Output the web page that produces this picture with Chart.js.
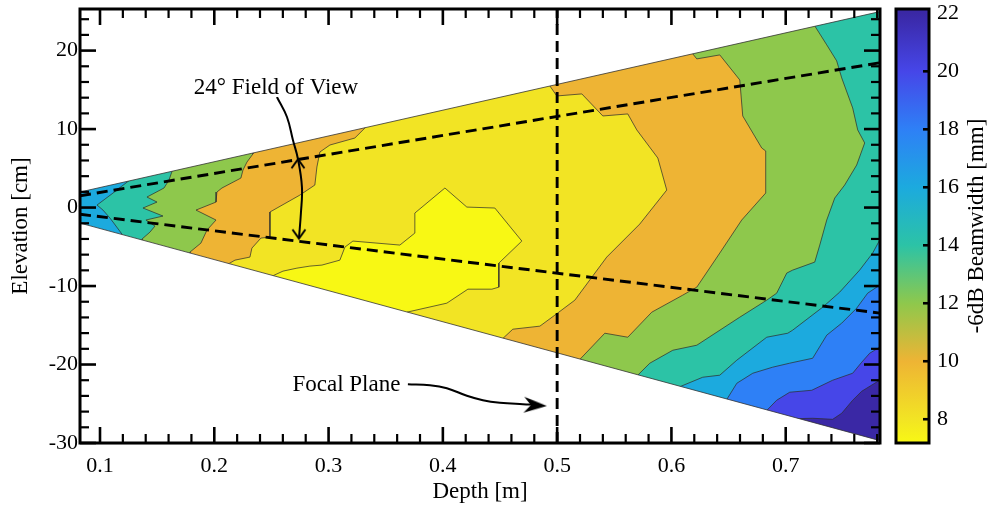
<!DOCTYPE html>
<html>
<head>
<meta charset="utf-8">
<title>Beamwidth map</title>
<script src="https://cdn.jsdelivr.net/npm/chart.js@4/dist/chart.umd.min.js"></script>
<style>
  html, body { margin: 0; padding: 0; background: #fff; }
</style>
</head>
<body>
<canvas id="beamChart" width="993" height="514"></canvas>
<script>
const depthLimits = [0.0825, 0.7825];
const elevationLimits = [-30, 25.3];
const beamwidthLimits = [7.18, 22.15];
const depthTicks = [0.1, 0.2, 0.3, 0.4, 0.5, 0.6, 0.7];
const elevationTicks = [-30, -20, -10, 0, 10, 20];
const beamwidthTicks = [8, 10, 12, 14, 16, 18, 20, 22];

// contour bands, lowest level of each band and its colour (deepest first)
const bandLevels = [22, 20, 18, 16, 14, 12, 10, 8, 7.18];
const bandColors = ['#3A28A5', '#4646E8', '#2E80F6', '#1CAADE', '#2CC3A6', '#8EC84C', '#EEB434', '#F2E424', '#F8F814'];

// areas where the -6dB beamwidth stays below each level, [depth m, elevation cm]
const above22 = [[0.05, 40], [0.80, 40], [0.80, -40], [0.05, -40]];
const under22 = [[0.05, 40], [0.80, 40], [0.80, -22.0], [0.7822, -22.0], [0.7665, -23.41], [0.7586, -24.55], [0.7490, -26.21], [0.7411, -26.98], [0.7236, -26.85], [0.7096, -26.90], [0.7096, -40], [0.05, -40]];
const under20 = [[0.05, 40], [0.80, 40], [0.80, -17.79], [0.7822, -17.79], [0.7735, -18.56], [0.7665, -19.71], [0.7586, -21.11], [0.7411, -22.00], [0.7228, -23.28], [0.7035, -23.53], [0.6921, -24.55], [0.6834, -25.85], [0.6834, -40], [0.05, -40]];
const under18 = [[0.05, 40], [0.80, 40], [0.80, -9.89], [0.7822, -9.89], [0.7717, -10.91], [0.7621, -12.82], [0.7490, -14.73], [0.7359, -16.26], [0.7236, -19.20], [0.7035, -19.83], [0.6886, -20.34], [0.6712, -21.11], [0.6572, -22.39], [0.6484, -24.46], [0.6484, -40], [0.05, -40]];
const under16 = [[0.1245, 40], [0.1245, 3.33], [0.1192, 2.74], [0.1114, 1.85], [0.0974, 0.32], [0.1026, -0.32], [0.1087, -1.34], [0.1114, -1.85], [0.1192, -3.38], [0.1192, -40], [0.6073, -40], [0.6073, -22.83], [0.6274, -21.62], [0.6423, -21.36], [0.6572, -19.45], [0.6834, -16.52], [0.7018, -16.01], [0.7061, -15.62], [0.7324, -12.69], [0.7472, -10.78], [0.7647, -7.97], [0.7761, -5.80], [0.7822, -4.15], [0.80, -4.15], [0.80, 40]];
const under14 = [[0.1630, 40], [0.1630, 4.62], [0.1604, 3.51], [0.1560, 2.49], [0.1411, 1.34], [0.1499, 0.70], [0.1376, -0.06], [0.1551, -1.08], [0.1402, -1.59], [0.1481, -2.36], [0.1437, -3.13], [0.1367, -4.02], [0.1367, -40], [0.5706, -40], [0.5706, -21.35], [0.5811, -19.83], [0.6012, -18.18], [0.6222, -17.54], [0.6598, -13.97], [0.6834, -11.80], [0.6921, -10.91], [0.7009, -8.35], [0.7061, -7.97], [0.7254, -6.95], [0.7298, -4.78], [0.7359, -1.59], [0.7429, 1.21], [0.7516, 2.87], [0.7621, 5.42], [0.7691, 8.23], [0.7630, 9.89], [0.7586, 12.69], [0.7490, 16.52], [0.7446, 18.69], [0.7359, 20.73], [0.7254, 23.15], [0.7254, 40]];
const under12 = [[0.2338, 40], [0.2338, 6.83], [0.2286, 5.80], [0.2251, 4.78], [0.2233, 3.76], [0.2067, 2.49], [0.2023, 1.98], [0.2015, 0.70], [0.1840, -0.32], [0.2015, -1.59], [0.1936, -2.87], [0.1883, -4.53], [0.1787, -5.68], [0.1787, -40], [0.5198, -40], [0.5198, -19.36], [0.5417, -16.01], [0.5618, -16.52], [0.5828, -13.33], [0.6099, -11.16], [0.6222, -10.14], [0.6423, -5.80], [0.6615, -1.59], [0.6825, 1.85], [0.6825, 7.21], [0.6790, 7.59], [0.6624, 11.67], [0.6598, 16.26], [0.6423, 19.45], [0.6222, 18.94], [0.6187, 19.58], [0.6187, 40]];
const under10 = [[0.3318, 40], [0.3318, 10.14], [0.3230, 8.86], [0.3012, 7.97], [0.2924, 7.08], [0.2898, 5.17], [0.2880, 2.87], [0.2749, 1.59], [0.2487, -0.57], [0.2487, -3.76], [0.2408, -3.89], [0.2329, -5.17], [0.2312, -6.31], [0.2181, -6.70], [0.2120, -7.21], [0.2120, -40], [0.4525, -40], [0.4525, -16.68], [0.4612, -15.50], [0.4849, -15.11], [0.4980, -13.71], [0.5155, -11.80], [0.5434, -6.31], [0.5723, -2.10], [0.5959, 2.23], [0.5881, 6.31], [0.5697, 9.89], [0.5618, 11.93], [0.5400, 11.67], [0.5216, 14.48], [0.4997, 14.22], [0.4936, 15.50], [0.4936, 40]];
const under8 = [[0.2513, -40], [0.2513, -8.69], [0.2601, -8.10], [0.2723, -7.72], [0.2837, -7.46], [0.2942, -7.33], [0.3099, -6.70], [0.3143, -5.04], [0.3213, -4.27], [0.3624, -4.78], [0.3755, -3.25], [0.3755, -0.70], [0.4018, 2.49], [0.4210, 0.06], [0.4455, -0.06], [0.4691, -4.27], [0.4490, -7.08], [0.4490, -10.14], [0.4429, -10.40], [0.4219, -10.40], [0.4035, -12.18], [0.3685, -13.33], [0.3685, -40]];
const bandAreas = [above22, under22, under20, under18, under16, under14, under12, under10, under8];

// imaged wedge and guide lines
const wedgeTop = [[0.0825, 1.98], [0.7825, 24.97]];
const wedgeBottom = [[0.0825, -1.98], [0.7825, -29.7]];
const fovUpper = [[0.0825, 1.5], [0.7825, 18.45]];
const fovLower = [[0.0825, -0.85], [0.7825, -13.45]];
const focalPlane = [[0.5, -30], [0.5, 25.3]];

// annotations
const fovArrow = [[0.2548, 14.09], [0.2636, 11.54], [0.2688, 8.61], [0.2732, 6.19], [0.2767, 2.61], [0.2758, -0.70], [0.2741, -3.89]];
const fovHeadUp = [[0.2732, 6.15]];
const fovHeadDown = [[0.2741, -3.95]];
const focalArrow = [[0.3694, -22.51], [0.3887, -22.64], [0.4035, -23.02], [0.4210, -23.98], [0.4350, -24.55], [0.4499, -24.87], [0.4700, -25.06], [0.4805, -25.13]];
const focalHead = [[0.4910, -25.28]];
const notes = [
    { text: '24° Field of View', at: [0.2540, 15.37] },
    { text: 'Focal Plane', at: [0.3156, -22.51] }
];

const serif = "'Liberation Serif', 'Times New Roman', serif";
const tickFont = { family: serif, size: 22 };
const titleFont = { family: serif, size: 23 };

const pts = arr => arr.map(([x, y]) => ({ x, y }));

function openHead() {
    const c = document.createElement('canvas');
    c.width = 26; c.height = 26;
    const g = c.getContext('2d');
    g.strokeStyle = '#000';
    g.lineWidth = 2;
    g.beginPath();
    g.moveTo(6.5, 22); g.lineTo(13, 13); g.lineTo(19.5, 22);
    g.stroke();
    return c;
}

function solidHead() {
    const c = document.createElement('canvas');
    c.width = 50; c.height = 50;
    const g = c.getContext('2d');
    g.fillStyle = '#000';
    g.beginPath();
    g.moveTo(25, 25); g.lineTo(2, 17); g.lineTo(9, 25); g.lineTo(2, 33);
    g.closePath();
    g.fill();
    return c;
}

const datasets = [];
bandAreas.forEach((area, i) => {
    datasets.push({
        data: pts(area), showLine: true, fill: 'shape', tension: 0,
        backgroundColor: bandColors[i], borderColor: 'rgba(45,45,45,0.9)', borderWidth: 0.8, pointRadius: 0
    });
});
const maskTop = [[0.05, wedgeTop[0][1]], ...wedgeTop, [0.80, wedgeTop[1][1]], [0.80, 40], [0.05, 40]];
const maskBottom = [[0.05, wedgeBottom[0][1]], ...wedgeBottom, [0.80, wedgeBottom[1][1]], [0.80, -40], [0.05, -40]];
[maskTop, maskBottom].forEach(mask => datasets.push({
    data: pts(mask), showLine: true, fill: 'shape', tension: 0, backgroundColor: '#fff', borderWidth: 0, pointRadius: 0
}));
[wedgeTop, wedgeBottom].forEach(edge => datasets.push({
    data: pts(edge), showLine: true, fill: false, borderColor: '#333', borderWidth: 0.8, pointRadius: 0
}));
[fovUpper, fovLower, focalPlane].forEach(line => datasets.push({
    data: pts(line), showLine: true, fill: false, borderColor: '#000', borderWidth: 2.9, borderDash: [11, 6], pointRadius: 0
}));
[fovArrow, focalArrow].forEach(path => datasets.push({
    data: pts(path), showLine: true, fill: false, tension: 0.4, borderColor: '#000', borderWidth: 2, pointRadius: 0
}));
const vHead = openHead();
datasets.push({ data: pts(fovHeadUp), showLine: false, pointStyle: vHead, rotation: 0, pointRadius: 5 });
datasets.push({ data: pts(fovHeadDown), showLine: false, pointStyle: vHead, rotation: 180, pointRadius: 5 });
datasets.push({ data: pts(focalHead), showLine: false, pointStyle: solidHead(), rotation: 3, pointRadius: 5 });
// first in the list is painted first
datasets.forEach((ds, i) => { ds.order = datasets.length - i; });

const overlay = {
    id: 'overlay',
    afterDraw(chart) {
        const { ctx, chartArea: a, scales: { x, y, cb } } = chart;
        ctx.save();

        ctx.font = `${titleFont.size}px ${serif}`;
        ctx.textAlign = 'center';
        ctx.textBaseline = 'middle';
        notes.forEach(note => {
            const px = x.getPixelForValue(note.at[0]);
            const py = y.getPixelForValue(note.at[1]);
            const w = ctx.measureText(note.text).width;
            ctx.fillStyle = '#fff';
            ctx.fillRect(px - w / 2 - 2, py - 11, w + 4, 21);
            ctx.fillStyle = '#000';
            ctx.fillText(note.text, px, py + 1);
        });

        // inward ticks on all four sides
        ctx.strokeStyle = '#000';
        const tick = (x1, y1, x2, y2, w) => {
            ctx.lineWidth = w;
            ctx.beginPath();
            ctx.moveTo(x1, y1);
            ctx.lineTo(x2, y2);
            ctx.stroke();
        };
        for (let k = 5; k * 0.02 <= depthLimits[1]; k++) {
            const major = k % 5 === 0;
            const len = major ? 16 : 9;
            const px = x.getPixelForValue(k * 0.02);
            tick(px, a.top, px, a.top + len, major ? 2.6 : 2.2);
            tick(px, a.bottom, px, a.bottom - len, major ? 2.6 : 2.2);
        }
        for (let k = -15; k * 2 <= elevationLimits[1]; k++) {
            const major = k % 5 === 0;
            const len = major ? 16 : 9;
            const py = y.getPixelForValue(k * 2);
            tick(a.left, py, a.left + len, py, major ? 2.6 : 2.2);
            tick(a.right, py, a.right - len, py, major ? 2.6 : 2.2);
        }
        ctx.lineWidth = 3;
        ctx.strokeRect(a.left, a.top, a.right - a.left, a.bottom - a.top);

        // colour bar
        const barLeft = a.right + 16;
        const barRight = a.right + 49;
        const h = a.bottom - a.top;
        const grad = ctx.createLinearGradient(0, a.top, 0, a.bottom);
        grad.addColorStop(0, bandColors[0]);
        bandLevels.forEach((lvl, i) => {
            const off = (cb.getPixelForValue(lvl) - a.top) / h;
            grad.addColorStop(Math.min(1, Math.max(0, off)), bandColors[i]);
        });
        ctx.fillStyle = grad;
        ctx.fillRect(barLeft, a.top, barRight - barLeft, h);
        beamwidthTicks.forEach(v => {
            const py = cb.getPixelForValue(v);
            if (py - a.top > 6) tick(barRight, py, barRight - 6, py, 2.6);
        });
        ctx.lineWidth = 3;
        ctx.strokeRect(barLeft, a.top, barRight - barLeft, h);

        ctx.translate(977, (a.top + a.bottom) / 2);
        ctx.rotate(-Math.PI / 2);
        ctx.fillStyle = '#000';
        ctx.fillText('-6dB Beamwidth [mm]', 0, 0);
        ctx.restore();
    }
};

// keep axis boxes at fixed sizes so the plot area lands where the figure has it
function fixedBox(size) {
    return s => {
        if (s.isHorizontal()) s.height = size; else s.width = size;
        s.paddingTop = 0;
        s.paddingBottom = 0;
        s.paddingLeft = 0;
        s.paddingRight = 0;
    };
}

new Chart(document.getElementById('beamChart').getContext('2d'), {
    type: 'scatter',
    data: { datasets },
    plugins: [overlay],
    options: {
        responsive: false,
        animation: false,
        events: [],
        layout: { padding: { top: 9, left: 0, right: 0, bottom: 0 } },
        plugins: { legend: { display: false }, tooltip: { enabled: false } },
        scales: {
            x: {
                type: 'linear',
                position: 'bottom',
                min: depthLimits[0],
                max: depthLimits[1],
                z: 1,
                afterBuildTicks: s => { s.ticks = depthTicks.map(value => ({ value })); },
                afterFit: fixedBox(71),
                grid: { color: 'rgba(0,0,0,0.16)', lineWidth: 2.5, drawTicks: false },
                border: { display: false },
                ticks: { font: tickFont, color: '#000', padding: 10, maxRotation: 0, autoSkip: false, callback: v => v.toFixed(1) },
                title: { display: true, text: 'Depth [m]', font: titleFont, color: '#000', padding: { top: 0, bottom: 8 } }
            },
            y: {
                type: 'linear',
                position: 'left',
                min: elevationLimits[0],
                max: elevationLimits[1],
                z: 1,
                afterBuildTicks: s => { s.ticks = elevationTicks.map(value => ({ value })); },
                afterFit: fixedBox(80),
                grid: { color: 'rgba(0,0,0,0.16)', lineWidth: 2.5, drawTicks: false },
                border: { display: false },
                ticks: { font: tickFont, color: '#000', padding: 2, autoSkip: false, callback: v => String(v) },
                title: { display: true, text: 'Elevation [cm]', font: titleFont, color: '#000', padding: { top: 7, bottom: 0 } }
            },
            cb: {
                type: 'linear',
                position: 'right',
                min: beamwidthLimits[0],
                max: beamwidthLimits[1],
                afterBuildTicks: s => { s.ticks = beamwidthTicks.map(value => ({ value })); },
                afterFit: fixedBox(113),
                grid: { display: false, drawTicks: false },
                border: { display: false },
                ticks: { font: tickFont, color: '#000', padding: 57, autoSkip: false }
            }
        }
    }
});
</script>
</body>
</html>
